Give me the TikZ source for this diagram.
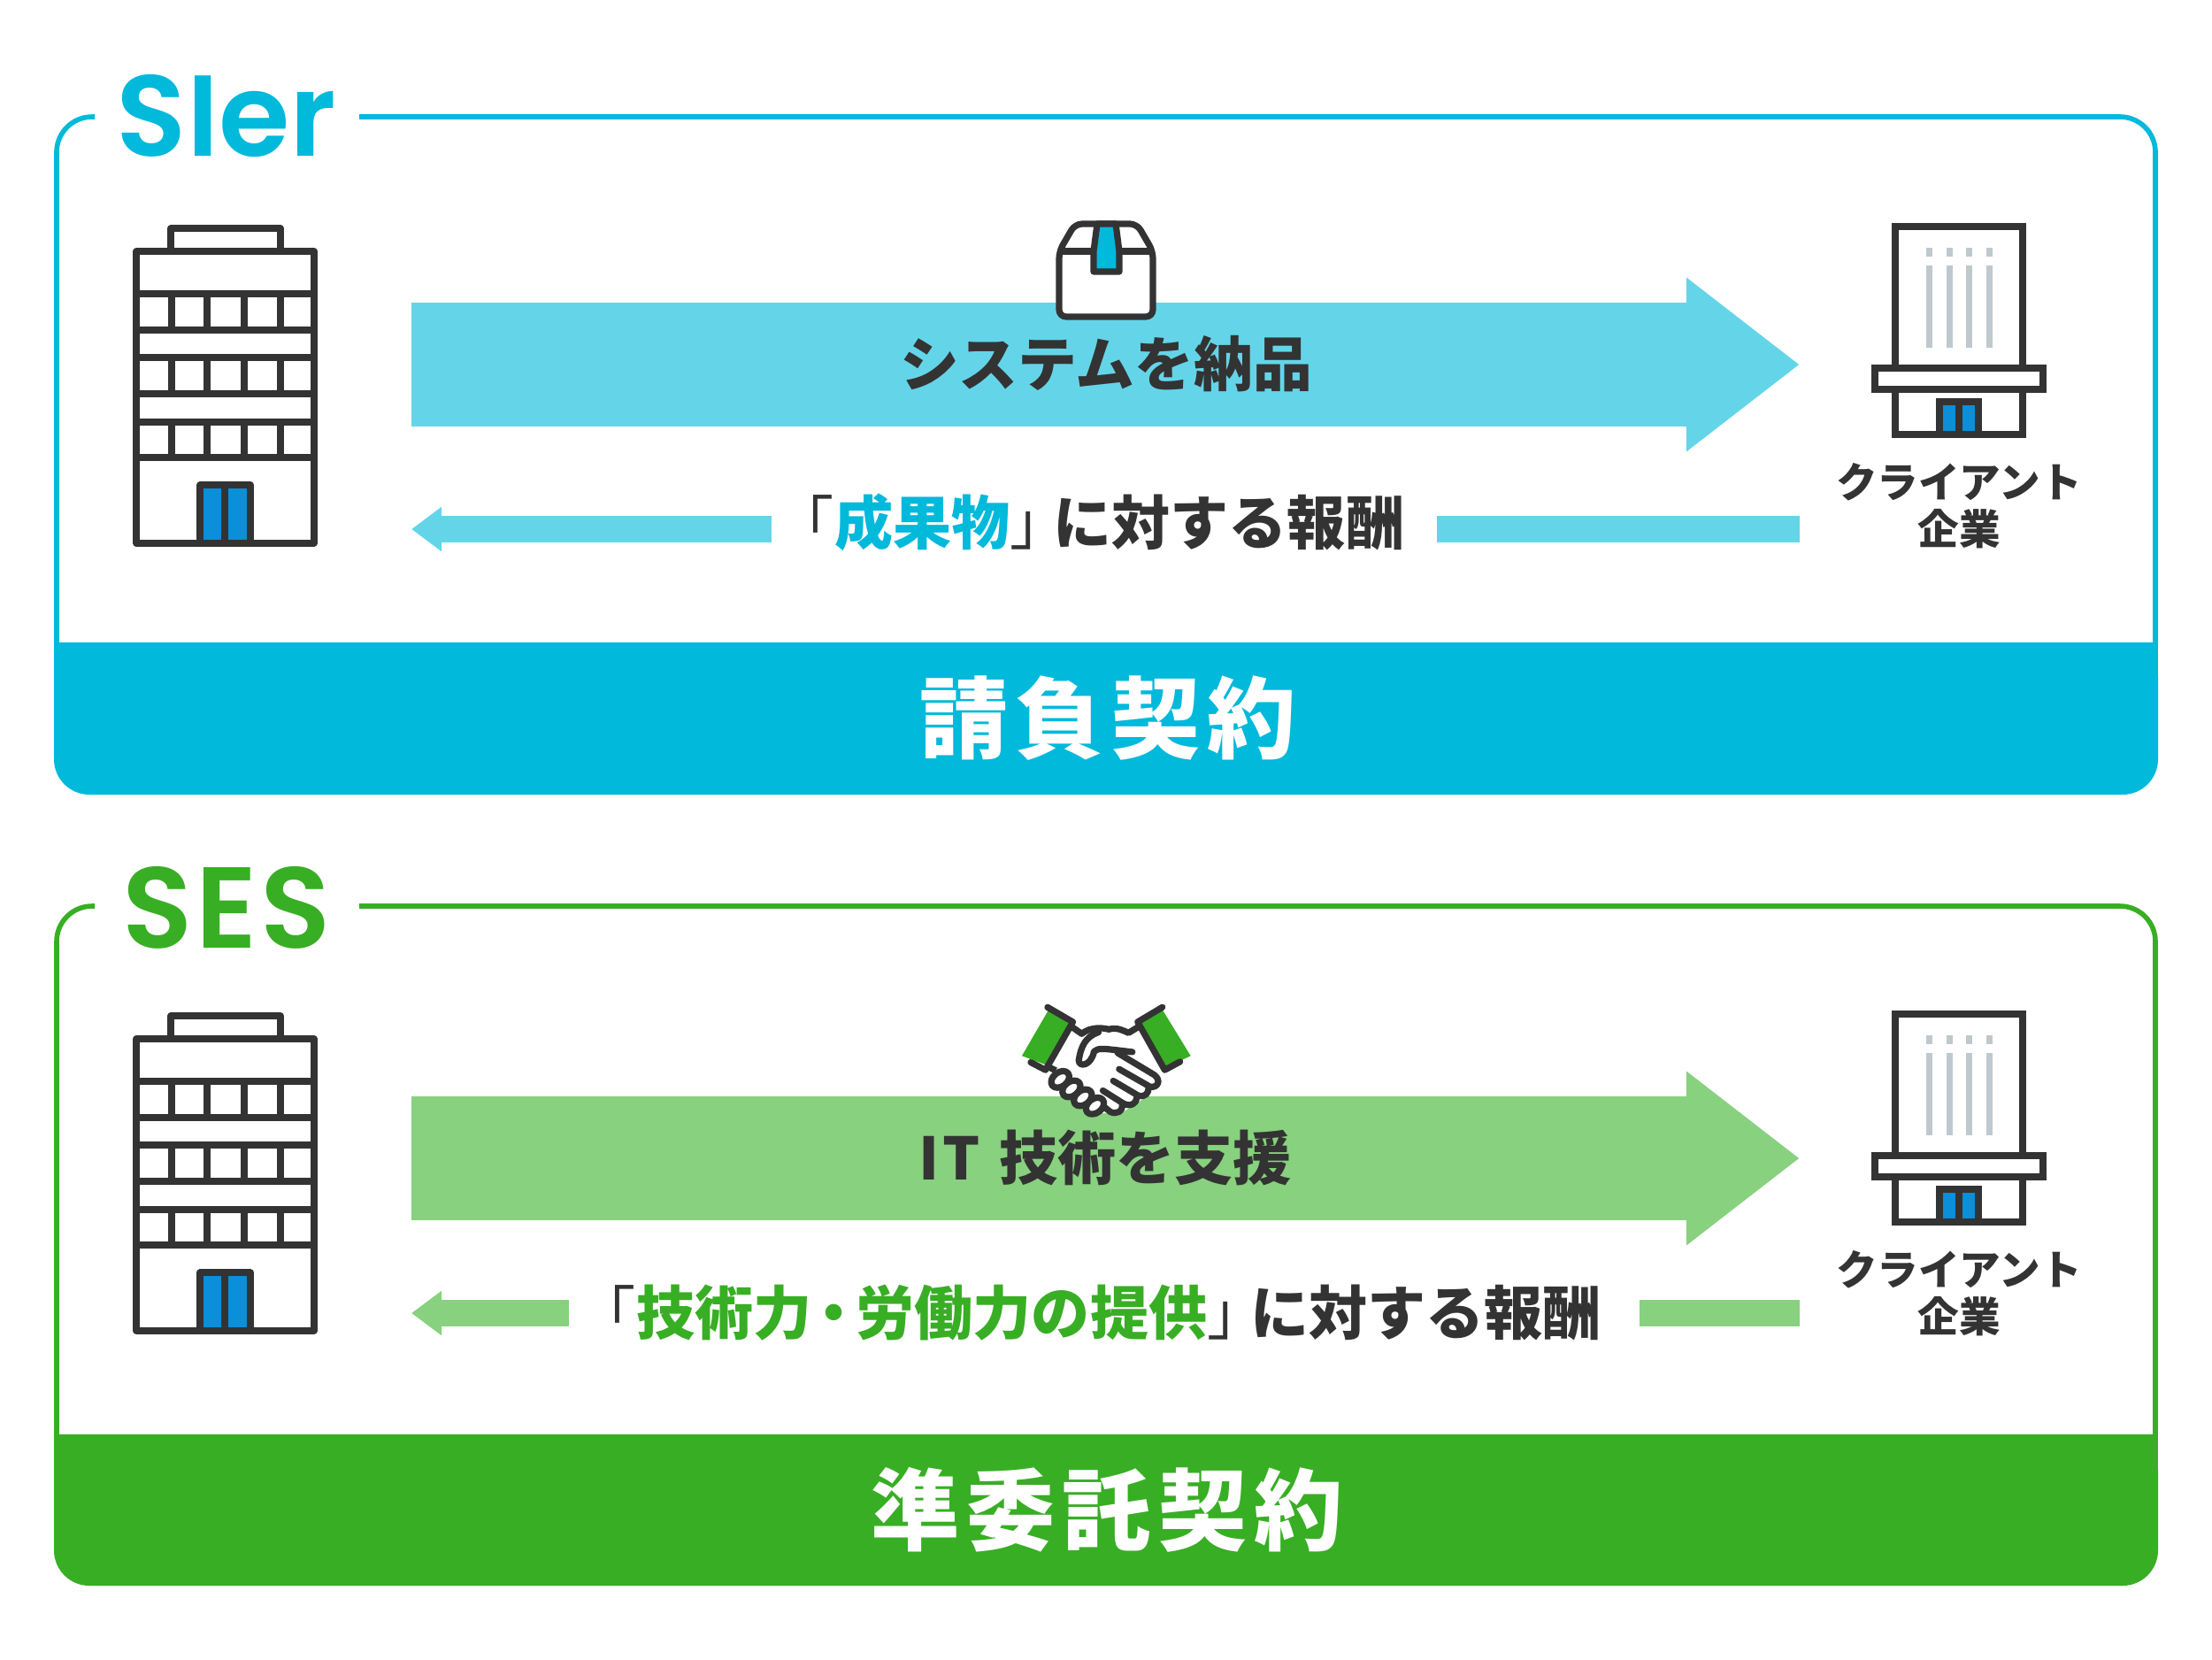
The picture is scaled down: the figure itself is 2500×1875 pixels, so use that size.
\documentclass[tikz,border=0pt]{standalone}
\usepackage{fontspec}
\usetikzlibrary{arrows.meta}
\setmainfont{Noto Sans CJK JP}
\newfontfamily\titlefont{Poppins}[UprightFont=* SemiBold]
\definecolor{ink}{HTML}{333333}
\definecolor{cyanmain}{HTML}{00B9DB}
\definecolor{cyanlight}{HTML}{64D5E9}
\definecolor{greenmain}{HTML}{38AE24}
\definecolor{greenlight}{HTML}{88D17F}
\definecolor{doorblue}{HTML}{0A8FD8}
\definecolor{slitgray}{HTML}{BFC9CD}
\newcommand{\thinbra}{{\color{ink}\mdseries 「}}
\newcommand{\thinket}{{\color{ink}\mdseries 」}\kern-0.17cm}
\newcommand{\midkern}{\kern-0.08cm ・\kern-0.08cm }
\tikzset{
  iconline/.style={draw=ink,line width=0.072cm,line join=round},
  frameline/.style={line width=0.056cm,rounded corners=0.4cm},
  title/.style={font=\titlefont\fontsize{37}{40}\selectfont,inner sep=0pt},
  bandtext/.style={font=\bfseries\fontsize{28.5}{30}\selectfont\addfontfeature{LetterSpace=8},text=white,inner sep=0pt},
  maintext/.style={font=\bfseries\fontsize{19}{22}\selectfont,text=ink,inner sep=0pt},
  paytext/.style={font=\bfseries\fontsize{18.8}{20}\selectfont,text=ink,inner sep=0pt},
  clienttext/.style={font=\bfseries\fontsize{13.25}{15.1}\selectfont,text=ink,align=center,inner sep=0pt},
  bigarrow/.style={-{Triangle[length=1.28cm,width=1.88cm]},line width=1.4cm},
  payarrow/.style={-{Triangle[length=0.34cm,width=0.48cm]},line width=0.3cm},
  payline/.style={line width=0.3cm},
  office/.pic={
    \draw[iconline] (193,284) -- (193,258) -- (317,258) -- (317,284);
    \draw[iconline] (154,284) rectangle (355,614);
    \foreach \y in {332,373,404,445,477,517}
      \draw[iconline] (154,\y) -- (355,\y);
    \foreach \x in {194,234,276,317} {
      \draw[iconline] (\x,332) -- (\x,373);
      \draw[iconline] (\x,404) -- (\x,445);
      \draw[iconline] (\x,477) -- (\x,517);
    }
    \draw[iconline,fill=doorblue] (226,548) rectangle (283,614);
    \draw[iconline] (254,548) -- (254,614);
  },
  client/.pic={
    \draw[iconline,line join=miter] (2142,416) -- (2142,256) -- (2286,256) -- (2286,416);
    \foreach \x in {2180,2203,2225,2248} {
      \draw[slitgray,line width=0.07cm] (\x,280) -- (\x,290);
      \draw[slitgray,line width=0.07cm] (\x,300) -- (\x,393);
    }
    \draw[iconline,line join=miter] (2119,416) rectangle (2309,440);
    \draw[iconline,line join=miter] (2142,440) -- (2142,491) -- (2286,491) -- (2286,440);
    \draw[iconline,line join=miter,fill=doorblue] (2192,454) rectangle (2236,491);
    \draw[iconline] (2214,454) -- (2214,491);
  },
}
\begin{document}
\begin{tikzpicture}[x=0.01cm,y=-0.01cm]
\useasboundingbox (0,0) rectangle (2500,1875);
% upper panel
\draw[cyanmain,frameline] (107,132) -- (64,132) -- (64,770);
\draw[cyanmain,frameline] (406,132) -- (2436,132) -- (2436,770);
\fill[cyanmain,rounded corners=0.4cm] (61,726) -- (61,898) -- (2439,898) -- (2439,726) -- cycle;
\fill[cyanmain] (61,726) rectangle (2439,780);
\node[title,text=cyanmain] (titleA) at (256,131) {SIer};
\node[bandtext] (bandA) at (1252,812) {請負契約};
\pic at (0,0) {office};
\pic at (0,0) {client};
\coordinate (fromA) at (465,412);
\coordinate (toA) at (2034,412);
\draw[bigarrow,cyanlight] (fromA) -- (toA);
\draw[iconline,fill=white,rounded corners=0.08cm] (1215,253) -- (1285,253) -- (1303,284) -- (1303,358) -- (1197,358) -- (1197,284) -- cycle;
\draw[iconline] (1197,284) -- (1303,284);
\draw[iconline,fill=cyanmain] (1240,253) -- (1261,253) -- (1265,284) -- (1265,307) -- (1236,307) -- (1236,284) -- cycle;
\node[maintext] (mainA) at (1250,411) {システムを納品};
\node[paytext,minimum width=7.495cm] (payA) at (1248,590) {\thinbra{\color{cyanmain}成果物}\thinket に対する報酬\hspace*{0.32cm}};
\coordinate (tipA) at (465,598);
\coordinate (startA) at (2034,598);
\draw[payarrow,cyanlight] (payA.west |- tipA) -- (tipA);
\draw[payline,cyanlight] (startA) -- (payA.east |- startA);
\node[clienttext] (clientA) at (2214,572) {クライアント\\企業};
% lower panel
\draw[greenmain,frameline] (107,1024) -- (64,1024) -- (64,1660);
\draw[greenmain,frameline] (406,1024) -- (2436,1024) -- (2436,1660);
\fill[greenmain,rounded corners=0.4cm] (61,1621) -- (61,1792) -- (2439,1792) -- (2439,1621) -- cycle;
\fill[greenmain] (61,1621) rectangle (2439,1680);
\node[title,text=greenmain] (titleB) at (256,1026) {\addfontfeature{LetterSpace=3}SES};
\node[bandtext] (bandB) at (1251,1706) {準委託契約};
\pic at (0,890) {office};
\pic at (0,890) {client};
\coordinate (fromB) at (465,1309);
\coordinate (toB) at (2034,1309);
\draw[bigarrow,greenlight] (fromB) -- (toB);
\begin{scope}[shift={(1130,1110)},x=0.00333cm,y=-0.00333cm]
\fill[white] (248,150) -- (320,155) -- (435,172) -- (470,150) -- (545,300) -- (540,340) -- (500,385) -- (460,415) -- (410,445) -- (320,445) -- (170,340) -- (165,285) -- cycle;
\fill[greenmain] (165,95) -- (235,140) -- (155,280) -- (75,250) -- cycle;
\fill[greenmain] (475,140) -- (550,90) -- (648,250) -- (565,290) -- cycle;
\draw[iconline,line cap=round] (162,85) -- (248,135) -- (155,298) -- (105,272);
\draw[iconline,line cap=round] (552,85) -- (468,135) -- (560,298) -- (612,270);
\draw[iconline] (245,152) -- (278,175) .. controls (310,150) and (350,155) .. (370,160) .. controls (400,152) and (420,165) .. (437,172) -- (470,152);
\draw[iconline,line cap=round] (335,170) .. controls (290,185) and (275,220) .. (268,265) .. controls (268,290) and (310,285) .. (320,235) .. controls (335,222) and (350,225) .. (450,237);
\draw[iconline,line cap=round] (400,240) -- (525,315) .. controls (550,335) and (535,360) .. (510,355) -- (405,295);
\draw[iconline,line cap=round] (505,360) .. controls (505,375) and (495,392) .. (470,385) -- (385,335);
\draw[iconline,line cap=round] (465,392) .. controls (465,410) and (445,425) .. (420,412) -- (350,368);
\draw[iconline,line cap=round] (415,412) .. controls (420,440) and (395,450) .. (375,440) -- (350,420);
\draw[iconline] (160,285) -- (190,300);
\foreach \cx/\cy in {205/330,243/362,282/392,323/420}
  \draw[iconline,fill=white,rotate around={38:(\cx,\cy)}] (\cx,\cy) ellipse (34 and 24);
\end{scope}
\node[maintext,font=\bfseries\fontsize{18.8}{22}\selectfont] (mainB) at (1249,1308) {I\kern0.04cm T\kern0.06cm\ 技術を支援};
\node[paytext,minimum width=12.08cm] (payB) at (1248,1484) {\thinbra{\color{greenmain}技術力\midkern 労働力の提供}\thinket に対する報酬\hspace*{0.33cm}};
\coordinate (tipB) at (465,1484);
\coordinate (startB) at (2034,1484);
\draw[payarrow,greenlight] (payB.west |- tipB) -- (tipB);
\draw[payline,greenlight] (startB) -- (payB.east |- startB);
\node[clienttext] (clientB) at (2214,1462) {クライアント\\企業};
\end{tikzpicture}
\end{document}
